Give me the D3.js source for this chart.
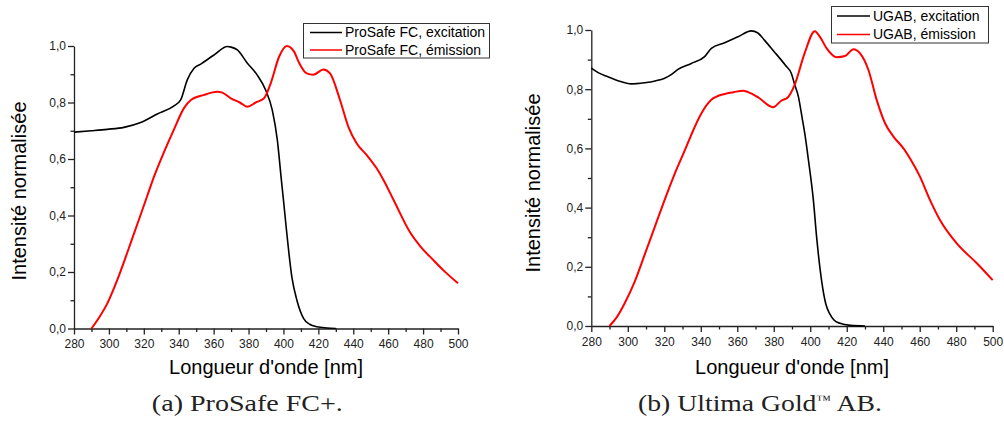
<!DOCTYPE html>
<html><head><meta charset="utf-8">
<script src="https://cdn.jsdelivr.net/npm/d3@7/dist/d3.min.js"></script>
<style>
html,body{margin:0;padding:0;background:#fff;}
svg{display:block;}
</style></head>
<body>
<svg id="chart" width="1004" height="421"></svg>
<script>
// ---- Data ----
const xTicks = [280,300,320,340,360,380,400,420,440,460,480,500];
const yTicks = [0,0.2,0.4,0.6,0.8,1.0];
const xLabel = "Longueur d'onde [nm]";
const yLabel = "Intensité normalisée";

// Panel (a) ProSafe FC+  [wavelength nm, normalised intensity]
const prosafeExcitation = [[280,0.695],[290,0.70],[299,0.705],[308.6,0.712],[318.2,0.729],[327.7,0.759],[337.3,0.788],[341.1,0.809],[344.9,0.88],[348.8,0.921],[352.6,0.936],[360.2,0.968],[367.9,0.998],[370,0.996],[373.6,0.986],[379.1,0.941],[385,0.897],[389.8,0.844],[393.6,0.773],[396.5,0.667],[398.8,0.526],[400,0.455],[401.9,0.338],[404.8,0.183],[407.7,0.10],[411.5,0.036],[415,0.015],[419.2,0.006],[425,0.002],[430,0]];
const prosafeEmission = [[290,0],[294.5,0.04],[299.1,0.089],[304.8,0.172],[310.6,0.27],[316.3,0.37],[322,0.47],[326,0.54],[331.6,0.625],[337.3,0.705],[343,0.78],[346.8,0.808],[354.5,0.827],[362.1,0.838],[365,0.835],[369.8,0.815],[375,0.8],[379.3,0.785],[384.1,0.80],[388.9,0.815],[392.7,0.868],[397.5,0.962],[401.9,1.0],[406.1,0.98],[409,0.94],[413.3,0.903],[417.1,0.898],[422.9,0.917],[426.7,0.903],[432.4,0.809],[437.2,0.714],[442,0.655],[447.7,0.614],[453.4,0.567],[457.3,0.526],[463.1,0.455],[472.6,0.34],[478.3,0.292],[485.9,0.242],[492,0.204],[500,0.16]];
const prosafeNames = ["ProSafe FC, excitation","ProSafe FC, émission"];
const prosafeCaption = ["(a) ProSafe FC+.", ""];

// Panel (b) Ultima Gold AB
const ugabExcitation = [[280,0.871],[284,0.855],[289.1,0.842],[295,0.828],[301.9,0.818],[309.2,0.822],[315,0.828],[320.2,0.837],[324,0.85],[327.5,0.867],[334.8,0.887],[342.1,0.91],[345.8,0.938],[353.1,0.957],[360.4,0.977],[367.7,0.997],[371.3,0.99],[375,0.965],[379.8,0.93],[386.5,0.88],[389.6,0.854],[391.5,0.815],[393.5,0.775],[395.5,0.705],[397.5,0.63],[399,0.561],[401.7,0.426],[403.5,0.30],[406.3,0.15],[408.5,0.075],[410.8,0.04],[413,0.02],[416.3,0.009],[422,0.002],[430,0]];
const ugabEmission = [[290,0],[294,0.03],[298.3,0.077],[303.8,0.15],[309.2,0.24],[314.7,0.333],[320.2,0.426],[325.7,0.514],[331.7,0.6],[334.8,0.646],[340.3,0.718],[345.8,0.764],[353.1,0.784],[358,0.79],[363.1,0.795],[366,0.79],[371.3,0.773],[379.6,0.739],[384.1,0.761],[387.8,0.773],[391.4,0.814],[396.9,0.921],[402.5,0.996],[405.5,0.975],[409,0.938],[414.5,0.908],[419.1,0.912],[423.7,0.935],[427.3,0.921],[431.9,0.865],[436.4,0.764],[441,0.685],[445.6,0.64],[451.1,0.6],[454.7,0.566],[460.2,0.504],[465.6,0.426],[471.1,0.358],[480.3,0.279],[491.3,0.212],[500,0.155]];
const ugabNames = ["UGAB, excitation","UGAB, émission"];
const ugabCaption = ["(b) Ultima Gold", "™", " AB."];

const seriesColors = ["#000000","#ff0000"];

// ---- Drawing ----
const svg = d3.select("#chart");
const sansFont = "'Liberation Sans', Arial, sans-serif";
const serifFont = "'Liberation Serif', 'Times New Roman', serif";
const fmt = d => d3.format(".1f")(d).replace(".", ",");

function drawPanel(p) {
  const x = d3.scaleLinear().domain([280,500]).range([p.x0, p.x1]);
  const y = d3.scaleLinear().domain([0,1]).range([p.yb, p.yt]);
  const g = svg.append("g");

  // minor ticks
  const minorX = d3.range(290, 500, 20);
  const minorY = d3.range(0.1, 1.0, 0.2);
  g.append("g").attr("transform", `translate(0,${p.yb})`)
    .call(d3.axisBottom(x).tickValues(minorX).tickSize(3.5).tickFormat("").tickSizeOuter(0))
    .call(s => s.select(".domain").remove());
  g.append("g").attr("transform", `translate(${p.x0},0)`)
    .call(d3.axisLeft(y).tickValues(minorY).tickSize(3.5).tickFormat("").tickSizeOuter(0))
    .call(s => s.select(".domain").remove());

  g.append("g").attr("transform", `translate(0,${p.yb})`)
    .call(d3.axisBottom(x).tickValues(xTicks).tickSize(6).tickPadding(5).tickSizeOuter(0).tickFormat(d3.format("d")));
  g.append("g").attr("transform", `translate(${p.x0},0)`)
    .call(d3.axisLeft(y).tickValues(yTicks).tickSize(6).tickPadding(2).tickSizeOuter(0).tickFormat(fmt));
  g.selectAll(".tick text").attr("font-family", sansFont).attr("font-size", 12).attr("fill", "#222");
  g.selectAll(".domain, .tick line").attr("stroke", "#222").attr("stroke-width", 1.3);

  // lines
  const line = d3.line().x(d => x(d[0])).y(d => y(d[1])).curve(d3.curveMonotoneX);
  p.series.forEach((s, i) => {
    g.append("path").datum(s).attr("d", line).attr("fill", "none")
      .attr("stroke", seriesColors[i]).attr("stroke-width", i === 0 ? 1.6 : 2)
      .attr("stroke-linejoin", "round");
  });

  // axis titles
  g.append("text").attr("x", p.xTitleX).attr("y", p.xTitleY).attr("text-anchor", "middle")
    .attr("font-family", sansFont).attr("font-size", 20).attr("fill", "#000").text(xLabel);
  g.append("text").attr("transform", `translate(${p.yTitleX},${p.yTitleY}) rotate(-90)`)
    .attr("text-anchor", "middle").attr("dy", "0.35em")
    .attr("font-family", sansFont).attr("font-size", 20).attr("fill", "#000").text(yLabel);

  // legend
  const L = p.legend;
  g.append("rect").attr("x", L.x).attr("y", L.y).attr("width", L.w).attr("height", L.h)
    .attr("fill", "#fff").attr("stroke", "#333").attr("stroke-width", 1);
  p.names.forEach((n, i) => {
    const ry = L.rows[i];
    g.append("line").attr("x1", L.lx0).attr("x2", L.lx1).attr("y1", ry).attr("y2", ry)
      .attr("stroke", seriesColors[i]).attr("stroke-width", 1.5);
    g.append("text").attr("x", L.tx).attr("y", ry).attr("dy", "0.35em")
      .attr("font-family", sansFont).attr("font-size", 14).attr("fill", "#000").text(n);
  });

  // caption (serif, stretched horizontally to match the wider LaTeX font)
  const cg = g.append("g");
  const ct = cg.append("text").attr("x", 0).attr("y", 0).attr("text-anchor", "middle")
    .attr("font-family", serifFont).attr("font-size", 24).attr("fill", "#222");
  ct.append("tspan").text(p.caption[0]);
  if (p.caption[1]) {
    ct.append("tspan").attr("font-size", 13).attr("dy", -7).text(p.caption[1]);
    ct.append("tspan").attr("dy", 7).text(p.caption[2]);
  }
  const w = ct.node().getBBox().width;
  const sx = p.capW / w;
  cg.attr("transform", `translate(${p.capX},${p.capY}) scale(${sx},1)`);
}

drawPanel({
  x0: 74, x1: 458, yb: 328.5, yt: 46,
  series: [prosafeExcitation, prosafeEmission], names: prosafeNames, caption: prosafeCaption,
  xTitleX: 266, xTitleY: 374, yTitleX: 19, yTitleY: 191,
  legend: {x: 303.5, y: 23.5, w: 186, h: 34.5, lx0: 310, lx1: 342, tx: 345, rows: [32.5, 50]},
  capX: 247.3, capY: 411, capW: 191
});
drawPanel({
  x0: 591.3, x1: 992.7, yb: 326, yt: 30,
  series: [ugabExcitation, ugabEmission], names: ugabNames, caption: ugabCaption,
  xTitleX: 792, xTitleY: 374, yTitleX: 533, yTitleY: 183,
  legend: {x: 831.5, y: 6.5, w: 157, h: 36.5, lx0: 837, lx1: 870, tx: 873, rows: [16, 34.5]},
  capX: 760, capY: 411, capW: 244
});
</script>
</body></html>
